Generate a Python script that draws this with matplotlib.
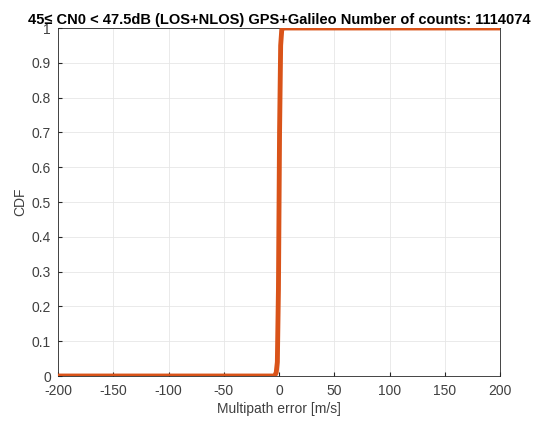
import matplotlib
matplotlib.use("Agg")
import matplotlib.pyplot as plt

plt.rcParams['font.family'] = ['Liberation Sans', 'DejaVu Sans']

# multipath error [m/s] and empirical CDF
ERR_BLUE = [-200, -5, -3, -2, -1, 0, 1, 2, 200]
CDF_BLUE = [0, 0, 0.01, 0.04, 0.2, 0.6, 0.93, 1, 1]
ERR_ORANGE = [-200, -4, -2.5, -1.5, -0.5, 0.5, 1.5, 2.5, 3, 200]
CDF_ORANGE = [0, 0, 0.01, 0.04, 0.25, 0.7, 0.95, 0.995, 1, 1]

XTICKS = [-200, -150, -100, -50, 0, 50, 100, 150, 200]
YTICKS = [0, 0.1, 0.2, 0.3, 0.4, 0.5, 0.6, 0.7, 0.8, 0.9, 1]
TITLE = "45≤ CN0 < 47.5dB (LOS+NLOS) GPS+Galileo Number of counts: 1114074"

fig = plt.figure(figsize=(5.45, 4.25), dpi=100)
ax = fig.add_axes([58 / 545, 49 / 425, 442 / 545, 348 / 425])

ax.plot(ERR_BLUE, CDF_BLUE, color="#0072BD", lw=1.2, zorder=3)
ax.plot(ERR_ORANGE, CDF_ORANGE, color="#D95319", lw=3.5, zorder=4)

ax.set_xlim(-200, 200)
ax.set_ylim(0, 1)
ax.set_xticks(XTICKS)
ax.set_xticklabels([str(t) for t in XTICKS])
ax.set_yticks(YTICKS)
ax.set_yticklabels(["0", "0.1", "0.2", "0.3", "0.4", "0.5", "0.6", "0.7", "0.8", "0.9", "1"])
ax.tick_params(direction="in", length=3, colors="#262626", labelsize=10, labelcolor="#404040")
ax.tick_params(axis="x", pad=6)
ax.tick_params(axis="y", pad=5)
ax.grid(True, color="#e6e6e6", lw=0.6, zorder=0)
for s in ax.spines.values():
    s.set_color("#262626")
    s.set_linewidth(0.6)

ax.set_xlabel("Multipath error [m/s]", fontsize=10, color="#404040", labelpad=3)
ax.set_ylabel("CDF", fontsize=10, color="#404040", labelpad=3)
ax.set_title(TITLE, fontsize=10.5, fontweight="bold", pad=3)

fig.savefig("out.png", dpi=100)
plt.close(fig)
